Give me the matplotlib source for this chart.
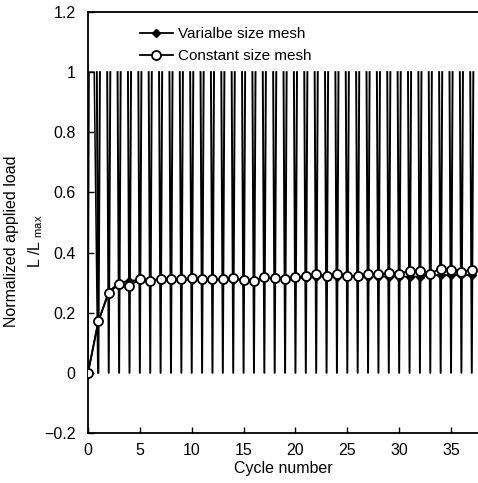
import numpy as np
import matplotlib
matplotlib.use("Agg")
from matplotlib import pyplot as plt
from matplotlib.ticker import FuncFormatter

plt.rcParams['font.family'] = ['Liberation Sans', 'DejaVu Sans']
plt.rcParams['mathtext.fontset'] = 'custom'
plt.rcParams['mathtext.rm'] = 'Liberation Sans'

# Cycle numbers and normalized values
cycles = np.arange(0, 38)
variable_mesh = [0.0, 0.17, 0.27, 0.30, 0.305, 0.31, 0.31, 0.31, 0.31, 0.31,
                 0.31, 0.31, 0.31, 0.31, 0.31, 0.31, 0.31, 0.315, 0.315, 0.315,
                 0.315, 0.315, 0.32, 0.32, 0.32, 0.32, 0.32, 0.32, 0.32, 0.32,
                 0.32, 0.32, 0.32, 0.325, 0.325, 0.325, 0.325, 0.325]
constant_mesh = [0.0, 0.173, 0.266, 0.296, 0.29, 0.311, 0.307, 0.311, 0.311, 0.311,
                 0.316, 0.311, 0.311, 0.311, 0.314, 0.310, 0.307, 0.318, 0.314, 0.313,
                 0.318, 0.321, 0.328, 0.322, 0.328, 0.322, 0.322, 0.328, 0.328, 0.332,
                 0.330, 0.339, 0.339, 0.330, 0.347, 0.341, 0.336, 0.343]

# Applied load history: first loading block, then one spike per cycle
load_first_x = [0.0, 0.1, 0.6, 0.95]
load_first_y = [0.0, 1.0, 1.0, 0.0]
spike_cycles = np.arange(1, 38)
load_min, load_max = 0.0, 1.0

fig = plt.figure(figsize=(4.78, 4.83), dpi=100)
ax = fig.add_axes([88 / 478, 50 / 483, 1 - 88 / 478, 421 / 483])

# load spikes
sx, sy = [], []
w = 0.15
for k in spike_cycles:
    sx += [k - w, k, k + w, np.nan]
    sy += [load_max, load_min, load_max, np.nan]
ax.plot(load_first_x, load_first_y, color='black', lw=1.1, zorder=1)
ax.plot(sx, sy, color='black', lw=1.4, zorder=1)

ax.plot(cycles, variable_mesh, color='black', lw=1.3, marker='D', ms=4,
        mfc='black', mec='black', zorder=3, label='Varialbe size mesh')
ax.plot(cycles, constant_mesh, color='black', lw=1.3, marker='o', ms=6.5,
        mfc='white', mec='black', mew=1.3, zorder=4, label='Constant size mesh')

ax.set_xlim(0, 37.6)
ax.set_ylim(-0.2, 1.2)
ax.set_xticks(np.arange(0, 36, 5))
ax.set_yticks(np.arange(-0.2, 1.21, 0.2))


def yfmt(v, p):
    if abs(v) < 1e-9:
        return "0"
    s = f"{v:.1f}".rstrip('0').rstrip('.')
    return s.replace('-', '\u2212')


ax.yaxis.set_major_formatter(FuncFormatter(yfmt))
ax.tick_params(direction='in', length=4, width=1, labelsize=11.5)
ax.tick_params(axis='y', pad=9)
ax.tick_params(axis='x', pad=7)
ax.spines['right'].set_visible(False)
for s in ['left', 'top', 'bottom']:
    ax.spines[s].set_linewidth(1.3)

ax.set_xlabel('Cycle number', fontsize=11.5, labelpad=2)
ax.set_ylabel('Normalized applied load\nL /L$_{\\rm\\ max}$', fontsize=11.5,
              multialignment='center', linespacing=1.5)
ax.yaxis.set_label_coords(-0.11, 0.455)

ax.legend(loc='upper left', bbox_to_anchor=(0.105, 0.99), frameon=False,
          fontsize=11, handlelength=2.2, handletextpad=0.3, labelspacing=0.55,
          borderaxespad=0.3)

fig.savefig('out.png', dpi=100)
